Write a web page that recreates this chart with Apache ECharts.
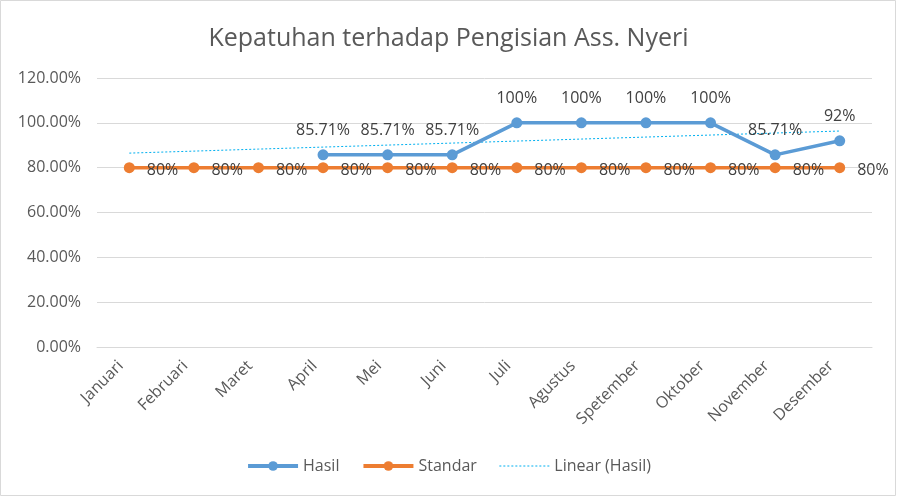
<!DOCTYPE html>
<html><head><meta charset="utf-8">
<script src="https://cdn.jsdelivr.net/npm/echarts@6/dist/echarts.min.js"></script>
<style>html,body{margin:0;padding:0;background:#fff}#c{width:897px;height:497px;box-sizing:border-box;}</style>
</head><body><div id="c"></div>
<script>
const titleText = 'Kepatuhan terhadap Pengisian Ass. Nyeri';
const categories = ['Januari','Februari','Maret','April','Mei','Juni','Juli','Agustus','Spetember','Oktober','November','Desember'];
const hasil = [null,null,null,85.71,85.71,85.71,100,100,100,100,85.71,92];
const standar = [80,80,80,80,80,80,80,80,80,80,80,80];
const hasilLabels = [null,null,null,'85.71%','85.71%','85.71%','100%','100%','100%','100%','85.71%','92%'];
const yTicks = [0,20,40,60,80,100,120];

// Linear trendline (least squares) of Hasil, over month index 1..12
const pts = hasil.map((v,i)=>[i+1,v]).filter(p=>p[1]!=null);
const n = pts.length;
const mx = pts.reduce((s,p)=>s+p[0],0)/n, my = pts.reduce((s,p)=>s+p[1],0)/n;
const slope = pts.reduce((s,p)=>s+(p[0]-mx)*(p[1]-my),0)/pts.reduce((s,p)=>s+(p[0]-mx)**2,0);
const trend = categories.map((c,i)=>my+slope*((i+1)-mx));

const FONT = 'Open Sans';
const chart = echarts.init(document.getElementById('c'));
chart.setOption({
  animation:false,
  backgroundColor:'#fff',
  textStyle:{fontFamily:FONT},
  title:{text:titleText,left:'center',top:21,textStyle:{fontFamily:FONT,fontSize:25,fontWeight:'normal',color:'#595959'}},
  grid:{left:97,right:25,top:78,bottom:150,containLabel:false},
  legend:{bottom:18,left:'center',itemWidth:50,itemHeight:12,itemGap:22,
    textStyle:{fontFamily:FONT,fontSize:16,color:'#595959'},
    data:[{name:'Hasil',lineStyle:{width:4}},{name:'Standar',lineStyle:{width:4}},
      {name:'Linear (Hasil)',itemStyle:{opacity:0},lineStyle:{type:[2,2],width:1,color:'#00B0F0'}}]},
  xAxis:{type:'category',data:categories,boundaryGap:true,
    axisLine:{show:true,lineStyle:{color:'#d9d9d9'}},axisTick:{show:false},
    axisLabel:{rotate:45,fontFamily:FONT,fontSize:16,color:'#595959',margin:8,interval:0,padding:[0,12,0,0]}},
  yAxis:{type:'value',min:0,max:120,interval:20,
    axisLine:{show:false},axisTick:{show:false},
    splitLine:{lineStyle:{color:'#d9d9d9'}},
    axisLabel:{fontFamily:FONT,fontSize:16,color:'#595959',margin:16,formatter:v=>v.toFixed(2)+'%'}},
  series:[
    {name:'Hasil',type:'line',data:hasil,color:'#5B9BD5',symbol:'circle',symbolSize:11,
      lineStyle:{width:3.5,color:'#5B9BD5'},itemStyle:{color:'#5B9BD5'},z:3,
      label:{show:true,position:'top',distance:11,fontFamily:FONT,fontSize:16,color:'#404040',
        formatter:p=>hasilLabels[p.dataIndex]}},
    {name:'Standar',type:'line',data:standar,color:'#ED7D31',symbol:'circle',symbolSize:11,
      lineStyle:{width:3.5,color:'#ED7D31'},itemStyle:{color:'#ED7D31'},z:2,
      label:{show:true,position:'right',distance:12,offset:[0,3],fontFamily:FONT,fontSize:16,color:'#404040',formatter:'{c}%'}},
    {name:'Linear (Hasil)',type:'line',data:trend,color:'#00B0F0',symbol:'none',
      lineStyle:{width:1,type:[2,2],color:'#00B0F0'},z:1,silent:true}
  ],
  graphic:[{type:'rect',shape:{x:0.5,y:0.5,width:895,height:495},style:{fill:'none',stroke:'#d9d9d9',lineWidth:1},silent:true}]
});
</script></body></html>
